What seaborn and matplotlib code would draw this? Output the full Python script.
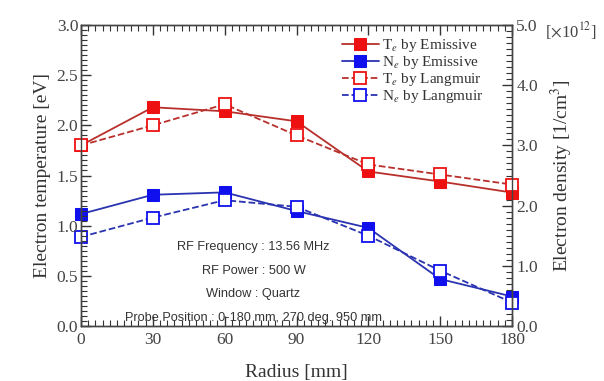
import numpy as np
import pandas as pd
import matplotlib
matplotlib.use("Agg")
import matplotlib.pyplot as plt
import seaborn as sns
from matplotlib.ticker import MultipleLocator, FixedLocator, FormatStrFormatter

radius = [0, 30, 60, 90, 120, 150, 180]
te_emissive = [1.80, 2.18, 2.14, 2.04, 1.54, 1.44, 1.33]
te_langmuir = [1.80, 2.00, 2.21, 1.90, 1.61, 1.51, 1.41]
ne_emissive = [1.86, 2.18, 2.22, 1.91, 1.63, 0.78, 0.49]
ne_langmuir = [1.48, 1.80, 2.09, 1.98, 1.50, 0.92, 0.39]
annotations = ["RF Frequency : 13.56 MHz", "RF Power : 500 W", "Window : Quartz",
               "Probe Position : 0-180 mm, 270 deg. 950 mm"]

sns.set_theme(style="ticks")
plt.rcParams['font.family'] = ['Liberation Serif', 'DejaVu Serif']
plt.rcParams['mathtext.fontset'] = 'stix'

fig = plt.figure(figsize=(6.04, 3.81), dpi=100)
ax = fig.add_axes([81/604, 1-326/381, (512-81)/604, (326-25)/381])
ax2 = ax.twinx()

red_line, red_mk = '#b8302c', '#ee1111'
blue_line, blue_mk = '#2a33b0', '#1010ee'

df = pd.DataFrame({"r": radius, "te_e": te_emissive, "te_l": te_langmuir,
                   "ne_e": ne_emissive, "ne_l": ne_langmuir})

common = dict(marker='s', markersize=8.5, linewidth=1.3, clip_on=False)
sns.lineplot(data=df, x="r", y="te_e", ax=ax, color=red_line,
             markerfacecolor=red_mk, markeredgecolor=red_mk, linestyle='-', **common)
sns.lineplot(data=df, x="r", y="te_l", ax=ax, color=red_line,
             markerfacecolor='white', markeredgecolor=red_mk, markeredgewidth=1.3,
             linestyle='--', **common)
sns.lineplot(data=df, x="r", y="ne_e", ax=ax2, color=blue_line,
             markerfacecolor=blue_mk, markeredgecolor=blue_mk, linestyle='-', **common)
sns.lineplot(data=df, x="r", y="ne_l", ax=ax2, color=blue_line,
             markerfacecolor='white', markeredgecolor=blue_mk, markeredgewidth=1.3,
             linestyle='--', **common)

l_te_e, l_te_l = ax.get_lines()[0], ax.get_lines()[1]
l_ne_e, l_ne_l = ax2.get_lines()[0], ax2.get_lines()[1]

ax.set_xlim(0, 180)
ax.set_ylim(0, 3.0)
ax2.set_ylim(0, 5.0)
ax.xaxis.set_major_locator(FixedLocator(radius))
ax.xaxis.set_minor_locator(MultipleLocator(3))
ax.yaxis.set_major_locator(MultipleLocator(0.5))
ax.yaxis.set_minor_locator(MultipleLocator(0.05))
ax.yaxis.set_major_formatter(FormatStrFormatter('%.1f'))
ax2.yaxis.set_major_locator(MultipleLocator(1.0))
ax2.yaxis.set_minor_locator(MultipleLocator(0.1))
ax2.yaxis.set_major_formatter(FormatStrFormatter('%.1f'))

tc = '#333333'
for a in (ax, ax2):
    a.tick_params(which='major', direction='in', length=7, width=1.0, color=tc,
                  labelsize=12.5, labelcolor='#444444', pad=2)
    a.tick_params(which='minor', direction='in', length=4, width=0.8, color=tc)
    for s in a.spines.values():
        s.set_color('#444444')
        s.set_linewidth(1.0)
ax.tick_params(axis='x', which='both', top=True, pad=4)
ax2.tick_params(axis='y', which='major', pad=3)

ax.set_xlabel("Radius [mm]", fontsize=14, color='#333333', labelpad=12)
ax.set_ylabel("Electron temperature [eV]", fontsize=14, color='#333333', labelpad=4)
ax2.set_ylabel(r"Electron density [1/cm$^3$]", fontsize=14, color='#333333', labelpad=8)
fig.text(545/604, 1-31/381, r"[$\times$10$^{12}$]", fontsize=12, color='#444444',
         ha='left', va='center')

leg = ax.legend([l_te_e, l_ne_e, l_te_l, l_ne_l],
                [r"T$_e$ by Emissive", r"N$_e$ by Emissive",
                 r"T$_e$ by Langmuir", r"N$_e$ by Langmuir"],
                loc='upper right', bbox_to_anchor=(0.955, 0.99), frameon=False,
                fontsize=11, handlelength=2.4, handletextpad=0.2,
                labelspacing=0.0, borderaxespad=0.2)
for t in leg.get_texts():
    t.set_color('#333333')
ax.set_zorder(ax2.get_zorder() + 1)
ax.patch.set_visible(False)

ypix = [247, 271, 294, 318]
for txt, yp in zip(annotations, ypix):
    ax.text(72, 3.0 * (326 - yp) / (326 - 25), txt, fontsize=9.2,
            family=['Liberation Sans', 'DejaVu Sans'], color='#333333',
            ha='center', va='center')

fig.savefig("out.png", dpi=100)
